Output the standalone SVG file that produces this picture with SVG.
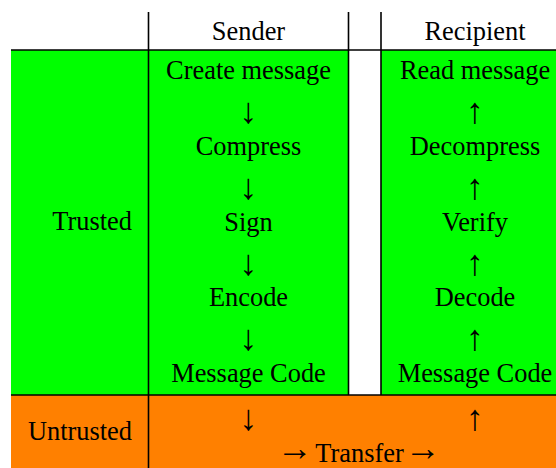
<svg xmlns="http://www.w3.org/2000/svg" width="556" height="468" viewBox="0 0 556 468">
<style>
text{font-size:26.4px;fill:#000;text-anchor:middle}
.r{text-anchor:end}
.a{font-size:36px}
.rule{stroke:#000;stroke-width:1.6;fill:none}
</style>
<rect width="556" height="468" fill="#fff"/>
<g id="bands">
<rect x="11" y="50" width="545" height="345" fill="#00ff00"/>
<rect x="349" y="50" width="32" height="345" fill="#fff"/>
<rect x="11" y="395" width="545" height="73" fill="#ff8000"/>
</g>
<g id="rules">
<line class="rule" x1="148.5" y1="12" x2="148.5" y2="468"/>
<line class="rule" x1="348.5" y1="12" x2="348.5" y2="395"/>
<line class="rule" x1="381" y1="12" x2="381" y2="395"/>
<line class="rule" x1="11" y1="50" x2="556" y2="50"/>
<line class="rule" x1="11" y1="395" x2="556" y2="395"/>
</g>
<g font-family="'Liberation Serif', 'Times New Roman', serif">
<g id="header-sender"><text x="248.5" y="40">Sender</text></g>
<g id="header-recipient"><text x="475" y="40">Recipient</text></g>
<g id="label-trusted"><text class="r" x="132" y="230">Trusted</text></g>
<g id="label-untrusted"><text class="r" x="132" y="440">Untrusted</text></g>
<g id="create-message"><text x="248.5" y="79">Create message</text></g>
<g id="compress"><text x="248.5" y="155">Compress</text></g>
<g id="sign"><text x="248.5" y="231">Sign</text></g>
<g id="encode"><text x="248.5" y="306">Encode</text></g>
<g id="message-code-sender"><text x="248.5" y="382">Message Code</text></g>
<g id="read-message"><text x="475" y="79">Read message</text></g>
<g id="decompress"><text x="475" y="155">Decompress</text></g>
<g id="verify"><text x="475" y="231">Verify</text></g>
<g id="decode"><text x="475" y="306">Decode</text></g>
<g id="message-code-recipient"><text x="475" y="382">Message Code</text></g>
<g id="transfer">
<text class="a" x="295" y="460">→</text>
<text x="359.5" y="462">Transfer</text>
<text class="a" x="423" y="460">→</text>
</g>
<g id="connectors">
<text class="a" x="248.5" y="123">↓</text>
<text class="a" x="248.5" y="199">↓</text>
<text class="a" x="248.5" y="275">↓</text>
<text class="a" x="248.5" y="350">↓</text>
<text class="a" x="248.5" y="430">↓</text>
<text class="a" x="475" y="123">↑</text>
<text class="a" x="475" y="199">↑</text>
<text class="a" x="475" y="275">↑</text>
<text class="a" x="475" y="350">↑</text>
<text class="a" x="475" y="430">↑</text>
</g>
</g>
</svg>
